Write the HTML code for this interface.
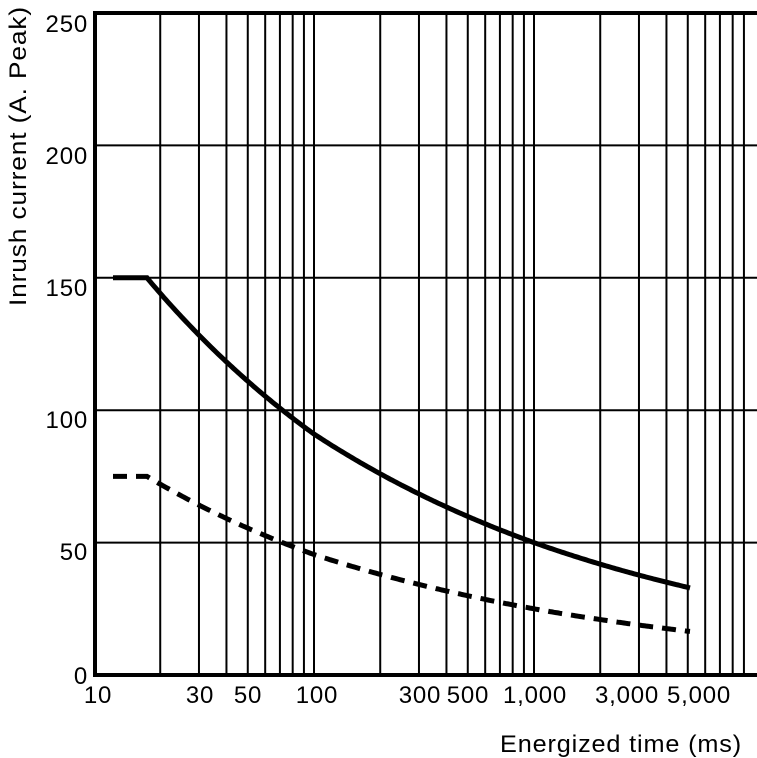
<!DOCTYPE html>
<html><head><meta charset="utf-8"><style>
html,body{margin:0;padding:0;background:#fff;}
svg{display:block;font-family:"Liberation Sans",Arial,sans-serif;}
text{font-size:24px;letter-spacing:0.8px;}
</style></head><body>
<svg id="s" width="757" height="758" xmlns="http://www.w3.org/2000/svg">
<g id="grid" stroke="#000" stroke-width="2"></g>
<rect x="95" y="13" width="668" height="662" fill="none" stroke="#000" stroke-width="4"/>
<g text-anchor="end" fill="#000">
<text x="88" y="32">250</text>
<text x="88" y="164">200</text>
<text x="88" y="296">150</text>
<text x="88" y="428">100</text>
<text x="88" y="560">50</text>
<text x="88" y="684">0</text>
</g>
<g text-anchor="middle" fill="#000" style="letter-spacing:0">
<text x="98" y="703">10</text>
<text x="200" y="703">30</text>
<text x="248" y="703">50</text>
<text x="317" y="703">100</text>
<text x="420" y="703">300</text>
<text x="468" y="703">500</text>
<text x="535" y="703">1,000</text>
<text x="627" y="703">3,000</text>
<text x="699" y="703">5,000</text>
</g>
<text x="500" y="752" textLength="242" lengthAdjust="spacingAndGlyphs">Energized time (ms)</text>
<text transform="translate(26,306) rotate(-90)" textLength="300" lengthAdjust="spacingAndGlyphs">Inrush current (A. Peak)</text>
<path id="p1" fill="none" stroke="#000" stroke-width="5"/>
<path id="p2" fill="none" stroke="#000" stroke-width="5" stroke-dasharray="14,9"/>
</svg>
<script>
var X=function(t){return 94+220*Math.log10(t/10);};
var Y=function(v){return 675-v*132.4/50;};
var g=document.getElementById('grid'),h='';
var ts=[];for(var d=10;d<=1000;d*=10)for(var k=2;k<=10;k++)ts.push(k*d);
ts.forEach(function(t){if(t<10000){var x=X(t);h+='<line x1="'+x+'" y1="13" x2="'+x+'" y2="675"/>';}});
for(var v=50;v<250;v+=50){var y=Y(v);h+='<line x1="95" y1="'+y+'" x2="757" y2="'+y+'"/>';}
g.innerHTML=h;
var P=[[17.4,150],[100,91],[1000,50],[4500,34]];
function val(t){for(var i=0;i<P.length-1;i++){if(t<=P[i+1][0]||i==P.length-2){var a=P[i],b=P[i+1];var f=Math.log(t/a[0])/Math.log(b[0]/a[0]);return Math.exp(Math.log(a[1])+f*Math.log(b[1]/a[1]));}}}
function path(s,x0){var d='M'+x0+','+Y(150*s)+' L147,'+Y(150*s);
for(var x=148;x<=690;x+=2){var t=10*Math.pow(10,(x-94)/220);d+=' L'+x+','+Y(val(t)*s).toFixed(1);}return d;}
document.getElementById('p1').setAttribute('d',path(1,113));
document.getElementById('p2').setAttribute('d',path(0.5,113));
</script>
</body></html>
